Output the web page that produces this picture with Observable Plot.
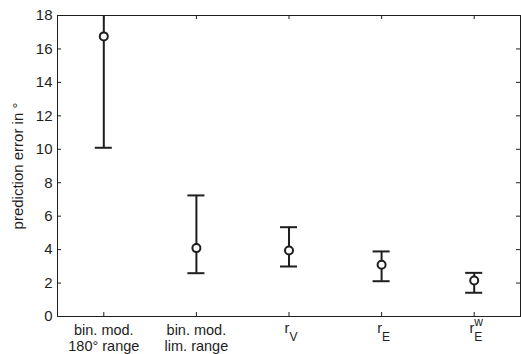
<!DOCTYPE html>
<html><head><meta charset="utf-8">
<script src="https://cdn.jsdelivr.net/npm/d3@7"></script>
<script src="https://cdn.jsdelivr.net/npm/@observablehq/plot@0.6"></script>
<style>body{margin:0;background:#fff}</style>
</head><body><div id="chart"></div>
<script>
const categories = ["bin. mod.\n180° range", "bin. mod.\nlim. range", "r_V", "r_E", "r_E^w"];
const positions = [1, 2, 3, 4, 5];
const means = [16.75, 4.09, 3.95, 3.09, 2.15];
const lower = [10.09, 2.59, 2.99, 2.11, 1.42];
const upper = [19.5, 7.24, 5.34, 3.89, 2.61];
const yTicks = [0, 2, 4, 6, 8, 10, 12, 14, 16, 18];
const yLabel = "prediction error in °";

const data = categories.map((c, i) => ({x: positions[i], mean: means[i], lo: lower[i], hi: upper[i]}));
const W = 521, H = 354, mL = 57, mR = 1, mT = 15, mB = 38;
const pw = W - mL - mR, ph = H - mT - mB;
const capHalf = 0.092;
const ink = "#1e1e1e";
const fs = 15, fsx = 14.5;

const chart = Plot.plot({
  width: W, height: H, marginLeft: mL, marginRight: mR, marginTop: mT, marginBottom: mB,
  style: {fontFamily: "'Liberation Sans', Arial, sans-serif", fontSize: fs + "px", color: ink, background: "#fff"},
  x: {domain: [0.5, 5.5]},
  y: {domain: [0, 18]},
  marks: [
    Plot.frame({stroke: ink}),
    Plot.tickY(yTicks, {y: d => d, insetRight: pw - 4, stroke: ink}),
    Plot.tickY(yTicks, {y: d => d, insetLeft: pw - 4, stroke: ink}),
    Plot.tickX(positions, {x: d => d, insetBottom: ph - 4, stroke: ink}),
    Plot.tickX(positions, {x: d => d, insetTop: ph - 4, stroke: ink}),
    Plot.axisY({ticks: yTicks, tickSize: 0, tickPadding: 5, label: null, fontSize: fs}),
    Plot.axisX({ticks: positions, tickSize: 0, tickPadding: 7, label: null, fontSize: fsx, lineHeight: 1.1,
      tickFormat: d => categories[positions.indexOf(d)]}),
    Plot.text([yLabel], {frameAnchor: "left", textAnchor: "middle", dx: -39, rotate: -90, text: d => d, fontSize: fs}),
    Plot.ruleX(data, {x: "x", y1: "lo", y2: "hi", stroke: ink, strokeWidth: 2, clip: true}),
    Plot.ruleY(data, {y: "lo", x1: d => d.x - capHalf, x2: d => d.x + capHalf, stroke: ink, strokeWidth: 2, clip: true}),
    Plot.ruleY(data, {y: "hi", x1: d => d.x - capHalf, x2: d => d.x + capHalf, stroke: ink, strokeWidth: 2, clip: true}),
    Plot.dot(data, {x: "x", y: "mean", r: 4, fill: "white", stroke: ink, strokeWidth: 2})
  ]
});

d3.select(chart).selectAll('g[aria-label="x-axis tick label"] text').each(function() {
  const t = this.textContent;
  if (!t.startsWith("r_")) return;
  const m = t.match(/^r_([A-Za-z])(?:\^([A-Za-z]))?$/);
  const sel = d3.select(this);
  sel.text("");
  sel.append("tspan").attr("dx", 2).attr("dy", -2).text("r");
  sel.append("tspan").attr("dy", 8).attr("font-size", 12).text(m[1]);
  if (m[2]) sel.append("tspan").attr("dx", -8).attr("dy", -15).attr("font-size", 12).text(m[2]);
});

document.getElementById("chart").append(chart);
</script>
</body></html>
